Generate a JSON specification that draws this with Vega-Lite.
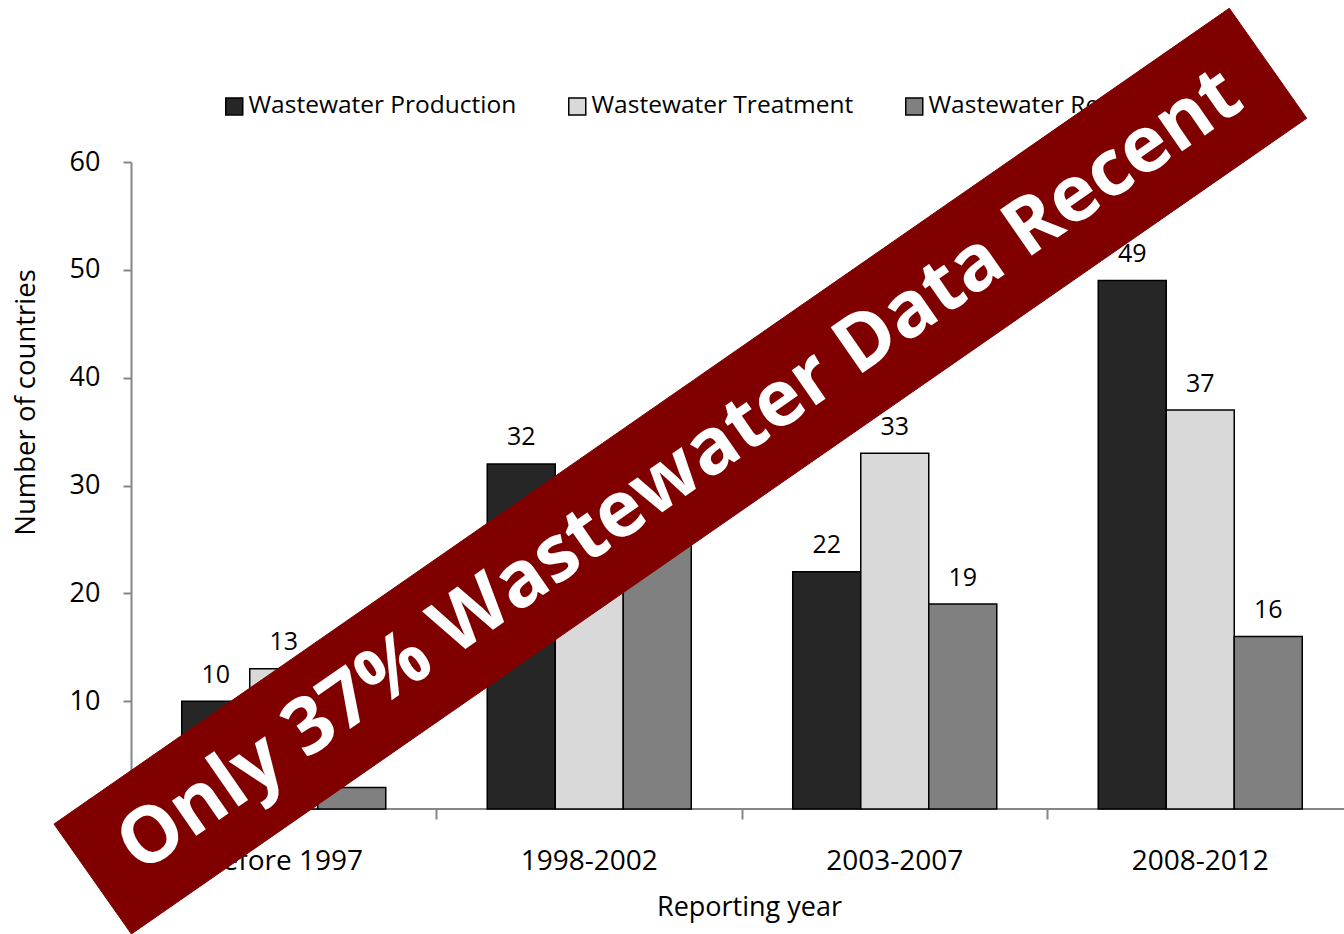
{
  "$schema": "https://vega.github.io/schema/vega-lite/v6.json",
  "padding": {"left": 12, "top": 6, "right": 0, "bottom": 0},
  "background": "white",
  "config": {"view": {"stroke": null}, "font": "Open Sans"},
  "bounds": "flush",
  "spacing": 0,
  "datasets": {
    "counts": [
      {"period": "Before 1997", "series": "Wastewater Production", "count": 10},
      {"period": "Before 1997", "series": "Wastewater Treatment", "count": 13},
      {"period": "Before 1997", "series": "Wastewater Reuse", "count": 2},
      {"period": "1998-2002", "series": "Wastewater Production", "count": 32},
      {"period": "1998-2002", "series": "Wastewater Treatment", "count": 22},
      {"period": "1998-2002", "series": "Wastewater Reuse", "count": 27},
      {"period": "2003-2007", "series": "Wastewater Production", "count": 22},
      {"period": "2003-2007", "series": "Wastewater Treatment", "count": 33},
      {"period": "2003-2007", "series": "Wastewater Reuse", "count": 19},
      {"period": "2008-2012", "series": "Wastewater Production", "count": 49},
      {"period": "2008-2012", "series": "Wastewater Treatment", "count": 37},
      {"period": "2008-2012", "series": "Wastewater Reuse", "count": 16}
    ],
    "banner": [
      {"corner": 1, "x": -0.252, "y": -1.391},
      {"corner": 2, "x": 3.5951, "y": 74.256},
      {"corner": 3, "x": 3.8485, "y": 64.054},
      {"corner": 4, "x": 0.0013, "y": -11.592},
      {"corner": 5, "x": -0.252, "y": -1.391}
    ],
    "bannerText": [
      {"x": 1.7987, "y": 31.3, "label": "Only 37% Wastewater Data Recent"}
    ]
  },
  "vconcat": [
    {
      "width": 1213,
      "height": 647,
      "data": {"name": "counts"},
      "layer": [
        {
          "mark": {"type": "rule", "color": "#868686", "strokeWidth": 2},
          "encoding": {"y": {"datum": 0, "type": "quantitative"}}
        },
        {
          "mark": {"type": "bar", "stroke": "#000000", "strokeWidth": 1.5},
          "encoding": {
            "x": {
              "field": "period", "type": "nominal",
              "sort": ["Before 1997", "1998-2002", "2003-2007", "2008-2012"],
              "scale": {"range": [0, 1222], "paddingInner": 0, "paddingOuter": 0},
              "axis": {
                "title": "Reporting year", "titleFontSize": 27, "titleFontWeight": "normal",
                "titleColor": "#000000", "titlePadding": 19, "titleX": 618,
                "labelFontSize": 28, "labelColor": "#000000", "labelPadding": 28, "labelAngle": 0,
                "bandPosition": 0, "tickSize": 10, "tickColor": "#868686", "tickWidth": 2,
                "domain": false, "grid": false
              }
            },
            "xOffset": {
              "field": "series", "type": "nominal",
              "sort": ["Wastewater Production", "Wastewater Treatment", "Wastewater Reuse"],
              "scale": {"paddingInner": 0, "paddingOuter": 0.746}
            },
            "y": {
              "field": "count", "type": "quantitative",
              "scale": {"domain": [0, 60], "nice": false},
              "axis": {
                "title": "Number of countries", "titleFontSize": 27.5, "titleFontWeight": "normal",
                "titleColor": "#000000", "titlePadding": 29, "titleY": 240,
                "labelFontSize": 27, "labelColor": "#000000", "labelPadding": 23,
                "values": [0, 10, 20, 30, 40, 50, 60],
                "tickSize": 8, "tickColor": "#868686", "tickWidth": 2,
                "domainColor": "#868686", "domainWidth": 2, "grid": false
              }
            },
            "color": {
              "field": "series", "type": "nominal",
              "scale": {
                "domain": ["Wastewater Production", "Wastewater Treatment", "Wastewater Reuse"],
                "range": ["#262626", "#d9d9d9", "#808080"]
              },
              "legend": {
                "orient": "none", "legendX": 91, "legendY": -68, "direction": "horizontal",
                "title": null, "symbolType": "square", "symbolSize": 289,
                "symbolStrokeColor": "#000000", "symbolStrokeWidth": 1.5, "symbolOpacity": 1,
                "labelFontSize": 24.5, "labelColor": "#000000", "labelOffset": 2,
                "columnPadding": 48, "padding": 0, "labelLimit": 400
              }
            }
          }
        },
        {
          "mark": {"type": "text", "fontSize": 25, "baseline": "alphabetic", "dy": -18.5, "color": "#000000"},
          "encoding": {
            "x": {"field": "period", "type": "nominal", "sort": ["Before 1997", "1998-2002", "2003-2007", "2008-2012"]},
            "xOffset": {"field": "series", "type": "nominal", "sort": ["Wastewater Production", "Wastewater Treatment", "Wastewater Reuse"]},
            "y": {"field": "count", "type": "quantitative"},
            "text": {"field": "count", "type": "quantitative"}
          }
        }
      ]
    },
    {
      "width": 1213,
      "height": 1,
      "layer": [
        {
          "data": {"name": "banner"},
          "mark": {"type": "line", "fill": "#800000", "stroke": "#800000", "strokeWidth": 1, "interpolate": "linear"},
          "encoding": {
            "x": {"field": "x", "type": "quantitative", "scale": {"domain": [0, 4], "range": [0, 1222], "nice": false, "zero": false}, "axis": null},
            "y": {"field": "y", "type": "quantitative", "scale": {"domain": [0, 60], "range": [0, -647], "nice": false, "zero": false}, "axis": null},
            "order": {"field": "corner", "type": "quantitative"}
          }
        },
        {
          "data": {"name": "bannerText"},
          "mark": {"type": "text", "font": "Open Sans", "fontWeight": "bold", "fontSize": 78, "color": "#ffffff", "angle": -34.78, "align": "center", "baseline": "middle"},
          "encoding": {
            "x": {"field": "x", "type": "quantitative", "axis": null},
            "y": {"field": "y", "type": "quantitative", "axis": null},
            "text": {"field": "label", "type": "nominal"}
          }
        }
      ]
    }
  ],
  "resolve": {
    "scale": {"x": "independent", "y": "independent", "color": "independent"},
    "legend": {"color": "independent"}
  }
}
